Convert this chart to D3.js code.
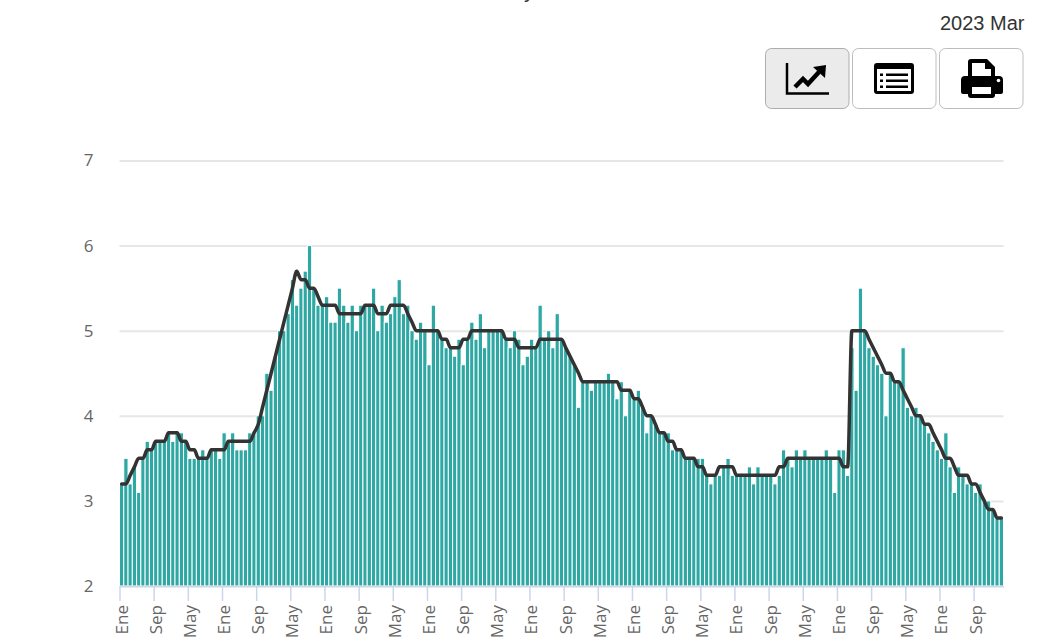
<!DOCTYPE html>
<html>
<head>
<meta charset="utf-8">
<script src="https://cdn.jsdelivr.net/npm/d3@7"></script>
<style>
  html, body { margin: 0; padding: 0; background: #fff; overflow: hidden; }
  svg { display: block; }
</style>
</head>
<body>
<div id="chart"></div>
<script>
// monthly values, Ene 2006 to Mar 2023
const barValues = [
  3.2,3.5,3.2,3.4,3.1,3.5,3.7,3.6,3.7,3.7,3.7,3.8,3.7,3.8,3.8,3.7,3.5,3.5,3.5,3.6,3.5,3.6,3.6,3.5,
  3.8,3.7,3.8,3.6,3.6,3.6,3.8,3.8,4.0,4.0,4.5,4.3,4.7,5.0,5.0,5.2,5.6,5.3,5.5,5.7,6.0,5.5,5.3,5.3,
  5.4,5.1,5.1,5.5,5.3,5.1,5.3,5.0,5.3,5.3,5.3,5.5,5.0,5.3,5.1,5.2,5.4,5.6,5.2,5.3,5.0,4.9,5.1,5.0,
  4.6,5.3,5.0,4.9,4.8,4.8,4.7,4.9,4.6,4.9,5.1,4.9,5.2,4.8,5.0,5.0,5.0,5.0,4.9,4.8,5.0,4.9,4.6,4.7,
  4.9,4.8,5.3,4.9,5.0,4.8,5.2,4.9,4.8,4.7,4.6,4.1,4.4,4.4,4.3,4.4,4.4,4.4,4.5,4.4,4.2,4.4,4.0,4.3,
  4.2,4.3,4.1,3.8,4.0,3.9,3.8,3.8,3.8,3.6,3.6,3.6,3.5,3.5,3.5,3.5,3.5,3.3,3.2,3.3,3.3,3.4,3.5,3.3,
  3.3,3.3,3.3,3.4,3.2,3.4,3.3,3.3,3.3,3.2,3.3,3.6,3.5,3.4,3.6,3.5,3.6,3.5,3.5,3.5,3.5,3.6,3.5,3.1,
  3.6,3.6,3.3,4.8,4.3,5.5,5.0,4.8,4.7,4.6,4.5,4.0,4.5,4.4,4.4,4.8,4.1,4.0,4.1,4.0,3.9,3.8,3.7,3.6,
  3.5,3.8,3.4,3.1,3.4,3.3,3.2,3.2,3.1,3.2,3.0,3.0,2.9,2.8,2.8
];
const lineValues = [
  3.2,3.2,3.3,3.4,3.5,3.5,3.6,3.6,3.7,3.7,3.7,3.8,3.8,3.8,3.7,3.7,3.6,3.6,3.5,3.5,3.5,3.6,3.6,3.6,
  3.6,3.7,3.7,3.7,3.7,3.7,3.7,3.8,3.9,4.1,4.3,4.5,4.7,4.9,5.1,5.3,5.5,5.7,5.6,5.6,5.5,5.5,5.4,5.3,
  5.3,5.3,5.3,5.2,5.2,5.2,5.2,5.2,5.2,5.3,5.3,5.3,5.2,5.2,5.2,5.3,5.3,5.3,5.3,5.2,5.1,5.0,5.0,5.0,
  5.0,5.0,5.0,4.9,4.9,4.8,4.8,4.8,4.9,4.9,5.0,5.0,5.0,5.0,5.0,5.0,5.0,5.0,4.9,4.9,4.9,4.8,4.8,4.8,
  4.8,4.8,4.9,4.9,4.9,4.9,4.9,4.9,4.8,4.7,4.6,4.5,4.4,4.4,4.4,4.4,4.4,4.4,4.4,4.4,4.4,4.3,4.3,4.3,
  4.2,4.2,4.1,4.0,4.0,3.9,3.8,3.8,3.7,3.7,3.6,3.6,3.5,3.5,3.5,3.4,3.4,3.3,3.3,3.3,3.4,3.4,3.4,3.4,
  3.3,3.3,3.3,3.3,3.3,3.3,3.3,3.3,3.3,3.3,3.4,3.4,3.5,3.5,3.5,3.5,3.5,3.5,3.5,3.5,3.5,3.5,3.5,3.5,
  3.5,3.4,3.4,5.0,5.0,5.0,5.0,4.9,4.8,4.7,4.6,4.5,4.5,4.4,4.4,4.3,4.2,4.1,4.0,4.0,3.9,3.9,3.8,3.7,
  3.6,3.5,3.5,3.4,3.3,3.3,3.3,3.2,3.2,3.1,3.0,2.9,2.9,2.8,2.8
];
const tickLabels = ['Ene', 'Sep', 'May'];
const yTicks = [2, 3, 4, 5, 6, 7];
const dateLabel = '2023 Mar';

const width = 1056, height = 640;
const plotLeft = 119.5, plotRight = 1003.5, plotTop = 160.5, plotBottom = 586;
const labelFont = '"Open Sans", sans-serif';

const svg = d3.select('#chart').append('svg')
  .attr('width', width)
  .attr('height', height)
  .attr('viewBox', `0 0 ${width} ${height}`);

const x = d3.scaleBand()
  .domain(d3.range(barValues.length))
  .range([plotLeft, plotRight]);

// month position, ticks sit on the left edge of each band
const xTime = d3.scaleLinear()
  .domain([0, barValues.length])
  .range([plotLeft, plotRight]);

const y = d3.scaleLinear().domain([2, 7]).range([plotBottom, plotTop]);

// gridlines and y labels
const yAxis = svg.append('g')
  .attr('transform', `translate(${plotLeft},0)`)
  .call(d3.axisLeft(y)
    .tickValues(yTicks)
    .tickSize(-(plotRight - plotLeft))
    .tickPadding(26)
    .tickFormat(d3.format('d')));
yAxis.select('.domain').remove();
yAxis.selectAll('line').attr('stroke', '#e6e6e6').attr('stroke-width', 2);
yAxis.selectAll('text')
  .attr('fill', '#666666')
  .style('font-family', labelFont)
  .style('font-size', '17px');

// bars
svg.append('g')
  .selectAll('rect')
  .data(barValues)
  .join('rect')
  .attr('x', (d, i) => x(i))
  .attr('y', d => y(d))
  .attr('width', x.bandwidth())
  .attr('height', d => plotBottom - y(d))
  .attr('fill', '#2fa8a4')
  .attr('stroke', '#ffffff')
  .attr('stroke-width', 1);

// x axis
const xAxis = svg.append('g')
  .attr('transform', `translate(0,${plotBottom})`)
  .call(d3.axisBottom(xTime)
    .tickValues(d3.range(0, barValues.length, 8))
    .tickSize(15)
    .tickSizeOuter(0)
    .tickFormat((d, i) => tickLabels[i % tickLabels.length]));
xAxis.select('.domain').attr('stroke', '#ccd6eb').attr('stroke-width', 1.5);
xAxis.selectAll('line').attr('stroke', '#ccd6eb').attr('stroke-width', 1.5);
xAxis.selectAll('text')
  .attr('fill', '#666666')
  .attr('text-anchor', 'end')
  .attr('dx', 0)
  .attr('dy', 0)
  .attr('transform', 'translate(7.5,19) rotate(-90)')
  .attr('y', 0)
  .style('font-family', labelFont)
  .style('font-size', '17px');

// trend line
const line = d3.line()
  .x((d, i) => x(i) + x.bandwidth() / 2)
  .y(d => y(d))
  .curve(d3.curveMonotoneX);

svg.append('path')
  .datum(lineValues)
  .attr('d', line)
  .attr('fill', 'none')
  .attr('stroke', '#333333')
  .attr('stroke-width', 3.5)
  .attr('stroke-linejoin', 'round')
  .attr('stroke-linecap', 'round');

// date and page title remnant
svg.append('text')
  .attr('x', 1024.5)
  .attr('y', 30)
  .attr('text-anchor', 'end')
  .attr('fill', '#333333')
  .style('font-family', '"Liberation Sans", Arial, sans-serif')
  .style('font-size', '20px')
  .text(dateLabel);

svg.append('text')
  .attr('x', 524)
  .attr('y', -3)
  .attr('fill', '#333333')
  .style('font-family', '"Liberation Sans", Arial, sans-serif')
  .style('font-size', '22px')
  .text('y');

// toolbar buttons
const buttons = svg.append('g');
[[765.5, true], [852.5, false], [939.5, false]].forEach(([bx, active]) => {
  buttons.append('rect')
    .attr('x', bx)
    .attr('y', 48.5)
    .attr('width', 83.5)
    .attr('height', 60)
    .attr('rx', 6)
    .attr('fill', active ? '#ebebeb' : '#ffffff')
    .attr('stroke', active ? '#adadad' : '#bdbdbd');
});

// chart icon
buttons.append('path')
  .attr('d', 'M787 63V93.5H829')
  .attr('fill', 'none')
  .attr('stroke', '#000')
  .attr('stroke-width', 2.5);
buttons.append('path')
  .attr('d', 'M795 87L803 79L808 84L819 72')
  .attr('fill', 'none')
  .attr('stroke', '#000')
  .attr('stroke-width', 4.5);
buttons.append('path')
  .attr('d', 'M813 67L826 65L825 78Z')
  .attr('fill', '#000');

// list icon
buttons.append('rect')
  .attr('x', 874).attr('y', 63).attr('width', 40).attr('height', 31).attr('rx', 3)
  .attr('fill', '#000');
buttons.append('rect')
  .attr('x', 877).attr('y', 69).attr('width', 34).attr('height', 22)
  .attr('fill', '#fff');
[74.5, 80.5, 86.5].forEach(ly => {
  buttons.append('rect').attr('x', 880).attr('y', ly - 1).attr('width', 3).attr('height', 2.5).attr('fill', '#000');
  buttons.append('rect').attr('x', 886).attr('y', ly - 1).attr('width', 22).attr('height', 2.5).attr('fill', '#000');
});

// printer icon
buttons.append('path')
  .attr('d', 'M968 76V62Q968 59 971 59H987L995 67V76H999Q1003 76 1003 80V92Q1003 94 1001 94H995V95Q995 98 992 98H971Q968 98 968 95V94H963Q961 94 961 92V80Q961 76 965 76Z')
  .attr('fill', '#000');
buttons.append('path')
  .attr('d', 'M972 63H985V69H991V76H972Z')
  .attr('fill', '#fff');
buttons.append('rect')
  .attr('x', 972).attr('y', 87).attr('width', 19).attr('height', 7)
  .attr('fill', '#fff');
buttons.append('circle')
  .attr('cx', 998.5).attr('cy', 80.5).attr('r', 1.8)
  .attr('fill', '#fff');
</script>
</body>
</html>
